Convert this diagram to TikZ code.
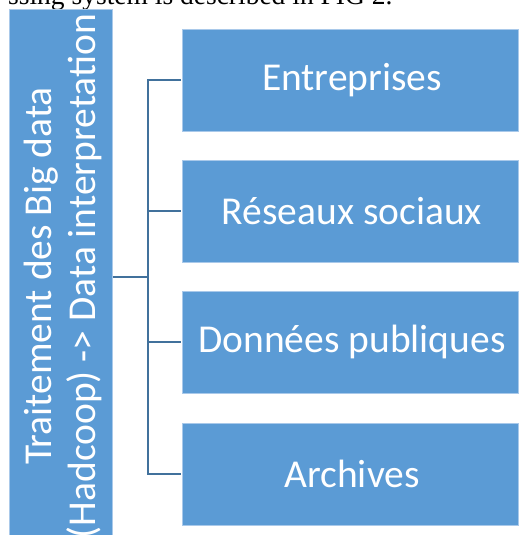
\documentclass[tikz,border=0pt]{standalone}
\usepackage{fontspec}
\setmainfont{Carlito}
\newfontfamily\captionserif{Liberation Serif}
\definecolor{boxblue}{HTML}{5B9BD5}
\definecolor{boxedge}{HTML}{A9C9EA}
\definecolor{linkblue}{HTML}{41719C}
\begin{document}
\begin{tikzpicture}[x=1pt,y=-1pt,
  bluebox/.style={fill=boxblue,draw=boxedge,line width=0.8pt},
  boxlabel/.style={text=white,font=\fontsize{39.5}{44}\selectfont},
  link/.style={draw=linkblue,line width=2.2pt}]
\useasboundingbox (0,0) rectangle (519,535);
\fill[white] (0,0) rectangle (519,535);

% running text of the page above the figure
\node[anchor=base west,inner sep=0pt,font=\captionserif\fontsize{27.5}{30}\selectfont]
  (caption) at (8,4.5) {ssing system is described in FIG 2.};

% left column
\path[bluebox] (9,9) rectangle (112,570);
\coordinate (root) at (112.5,277);
\node[boxlabel,rotate=90,align=center,inner sep=0pt] (roottext) at (63,276)
  {Traitement des Big data\\(Hadcoop) -> Data interpretation};

% right column boxes
\path[bluebox] (182,29) rectangle (518,131);
\path[bluebox] (182,160) rectangle (518,262);
\path[bluebox] (182,291) rectangle (518,393);
\path[bluebox] (182,423) rectangle (518,525);
\node[boxlabel] (n1) at (352,80) {Entreprises};
\node[boxlabel] (n2) at (352,211) {Réseaux sociaux};
\node[boxlabel] (n3) at (352,342) {Données publiques};
\node[boxlabel] (n4) at (352,474) {Archives};

\coordinate (e1) at (181,80);
\coordinate (e2) at (181,211);
\coordinate (e3) at (181,342);
\coordinate (e4) at (181,474);
\coordinate (trunk) at (148,277);

% bracket connectors
\draw[link] (root) -- (trunk);
\draw[link] (e1) -| (trunk) |- (e4);
\draw[link] (trunk |- e2) -- (e2);
\draw[link] (trunk |- e3) -- (e3);
\end{tikzpicture}
\end{document}
